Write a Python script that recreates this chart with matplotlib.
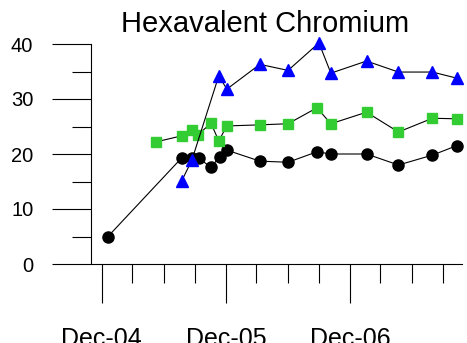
# %%
# Hexavalent Chromium - three monitoring series

import matplotlib

matplotlib.use("Agg")
import matplotlib.dates as mdates
import matplotlib.pyplot as plt
import pandas as pd

plt.rcParams["font.family"] = ["Liberation Sans", "DejaVu Sans"]

# %%
# data

black_dates = ["2004-12-19", "2005-07-24", "2005-08-23", "2005-09-13", "2005-10-18",
               "2005-11-13", "2005-12-04", "2006-03-11", "2006-06-02", "2006-08-26",
               "2006-10-06", "2007-01-19", "2007-04-23", "2007-08-01", "2007-10-11"]
black_vals = [5.0, 19.3, 19.2, 19.2, 17.6, 19.5, 20.7, 18.7, 18.5, 20.4,
              20.0, 20.0, 18.0, 19.8, 21.5]

green_dates = ["2005-05-09", "2005-07-24", "2005-08-23", "2005-09-10", "2005-10-18",
               "2005-11-10", "2005-12-04", "2006-03-11", "2006-06-02", "2006-08-26",
               "2006-10-06", "2007-01-19", "2007-04-23", "2007-08-01", "2007-10-11"]
green_vals = [22.2, 23.3, 24.4, 23.5, 25.6, 22.4, 25.1, 25.3, 25.5, 28.4,
              25.5, 27.6, 24.0, 26.5, 26.4]

blue_dates = ["2005-07-24", "2005-08-23", "2005-11-10", "2005-12-04", "2006-03-11",
              "2006-06-02", "2006-09-01", "2006-10-06", "2007-01-19", "2007-04-23",
              "2007-08-01", "2007-10-11"]
blue_vals = [15.1, 18.9, 34.2, 31.8, 36.3, 35.2, 40.2, 34.7, 36.9, 34.9, 34.9, 33.8]

major_dates = ["2004-12-01", "2005-12-01", "2006-12-01"]
major_labels = ["Dec-04", "Dec-05", "Dec-06"]

# %%
# plot

fig = plt.figure(figsize=(4.67, 3.43), dpi=100)
ax = fig.add_axes([91 / 467, 1 - 264 / 343, 371 / 467, 220 / 343])

line_kw = dict(color="black", linewidth=0.8, markersize=8, clip_on=False)
ax.plot(pd.to_datetime(black_dates), black_vals, marker="o",
        markerfacecolor="black", markeredgecolor="black", **line_kw)
ax.plot(pd.to_datetime(green_dates), green_vals, marker="s",
        markerfacecolor="#33CC33", markeredgecolor="#33CC33", markersize=7.5,
        color="black", linewidth=0.8, clip_on=False)
ax.plot(pd.to_datetime(blue_dates), blue_vals, marker="^",
        markerfacecolor="#0000FF", markeredgecolor="#0000FF", **line_kw)

ax.set_ylim(0, 40)
ax.set_xlim(pd.Timestamp("2004-10-30"), pd.Timestamp("2007-10-27"))

ax.set_yticks([0, 10, 20, 30, 40])
ax.set_yticks([5, 15, 25, 35], minor=True)
ax.set_xticks(pd.to_datetime(major_dates))
ax.set_xticklabels(major_labels)
ax.xaxis.set_minor_locator(mdates.MonthLocator(bymonth=[3, 6, 9, 12]))

ax.tick_params(axis="y", which="major", direction="out", length=28, width=0.8,
               labelsize=14.5, pad=13.5)
ax.tick_params(axis="y", which="minor", direction="out", length=14, width=0.8)
ax.tick_params(axis="x", which="major", direction="out", length=28, width=0.8,
               labelsize=18, pad=17.5)
ax.tick_params(axis="x", which="minor", direction="out", length=14, width=0.8)

for s in ["top", "right"]:
    ax.spines[s].set_visible(False)
ax.spines["left"].set_linewidth(0.8)
ax.spines["bottom"].set_linewidth(0.8)

fig.text(265 / 467, 1 - 32 / 343, "Hexavalent Chromium", ha="center",
         va="baseline", fontsize=21)

fig.savefig("out.png", dpi=100)
